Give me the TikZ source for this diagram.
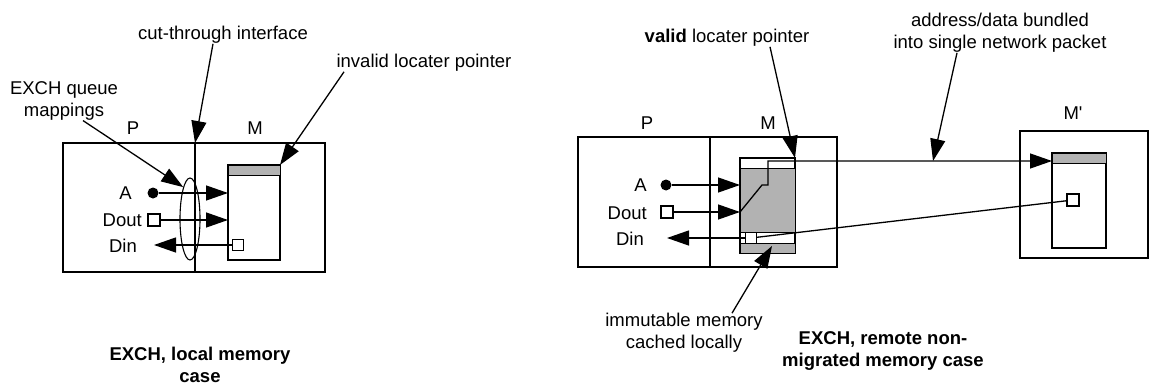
\documentclass[tikz,border=0pt]{standalone}
\usepackage{fontspec}
\setmainfont{Liberation Sans}
\usetikzlibrary{arrows.meta,shapes.geometric}
\begin{document}
\begin{tikzpicture}[x=1pt,y=-1pt,
  font=\fontsize{18.5}{22}\selectfont,
  frame/.style={draw, line width=1.4pt, inner sep=0pt, outer sep=0pt, anchor=north west},
  lbl/.style={inner sep=0pt, align=center},
  caption/.style={inner sep=0pt, align=center, font=\fontsize{18.5}{22}\selectfont\bfseries},
  wire/.style={line width=1.3pt},
  arrw/.style={wire, -{Triangle[length=22pt,width=15pt]}},
  cache/.style={fill=gray!60, draw, line width=1pt},
  sqbox/.style={draw, fill=white, line width=1.1pt, minimum size=12pt, inner sep=0pt},
  dotnode/.style={circle, fill=black, minimum size=11pt, inner sep=0pt}]
\useasboundingbox (0,0) rectangle (1153,385);

% ---------------- left: local memory case ----------------
\node[frame, minimum width=262pt, minimum height=129pt] (boxL) at (63,143) {};
\coordinate (divLt) at (195,143);
\coordinate (divLb) at (195,272);
\draw[wire] (divLt) -- (divLb);
\node[frame, minimum width=52pt, minimum height=95pt] (memL) at (228,165) {};
\draw[cache] (228,165) rectangle (280,175);
\node[draw, ellipse, line width=1.1pt, minimum width=20pt, minimum height=82pt, inner sep=0pt] (ell) at (190,219) {};

\node (P1) at (133,128) {P};
\node (M1) at (255,128) {M};

\node[dotnode] (dotA1) at (153,193) {};
\node[sqbox] (sqD1) at (154,220) {};
\node[sqbox, minimum size=11pt] (sqI1) at (238,245) {};
\node[lbl, anchor=east] (A1) at (132,193) {A};
\node[lbl, anchor=east] (Dout1) at (142,220) {Dout};
\node[lbl, anchor=east] (Din1) at (137,246) {Din};
\coordinate (DinTip1) at (154,245);

\draw[arrw] (dotA1) -- (memL.west |- dotA1);
\draw[arrw] (sqD1) -- (memL.west |- sqD1);
\draw[arrw] (sqI1) -- (DinTip1);

\node[lbl] (cut) at (223,35) {cut-through interface};
\draw[arrw] ([xshift=-10pt]cut.south) -- (divLt);
\node[lbl] (exq) at (64,101) {EXCH queue\\mappings};
\draw[arrw] ([xshift=19pt]exq.south) -- (ell.102);
\node[lbl] (inv) at (424,63) {invalid locater pointer};
\draw[arrw] ([xshift=-80pt]inv.south) -- (memL.north east);

\node[caption] (capL) at (200,365) {EXCH, local memory\\case};

% ---------------- right: remote non-migrated memory case ----------------
\node[frame, minimum width=259pt, minimum height=130pt] (boxR) at (578,137) {};
\coordinate (divRt) at (710,137);
\coordinate (divRb) at (710,267);
\draw[wire] (divRt) -- (divRb);
\node[frame, minimum width=55pt, minimum height=95pt] (memR) at (740,158) {};
\draw[cache] (740,168) rectangle (795,232);
\draw[line width=1pt] (740,243) -- (795,243);
\draw[cache] (740,243) rectangle (795,253);

\node (P2) at (647,123) {P};
\node (M2) at (768,123) {M};

\node[dotnode] (dotA2) at (666,185) {};
\node[sqbox] (sqD2) at (667,212) {};
\node[sqbox, minimum size=11pt] (sqI2) at (751,238) {};
\node[lbl, anchor=east] (A2) at (647,185) {A};
\node[lbl, anchor=east] (Dout2) at (647,213) {Dout};
\node[lbl, anchor=east] (Din2) at (644,239) {Din};
\coordinate (DinTip2) at (667,238);

\draw[arrw] (dotA2) -- (memR.west |- dotA2);
\draw[arrw] (sqD2) -- (memR.west |- sqD2);
\draw[arrw] (sqI2) -- (DinTip2);

% remote memory M'
\node[frame, minimum width=128pt, minimum height=127pt] (boxMp) at (1020,131) {};
\node[frame, minimum width=54pt, minimum height=95pt] (memP) at (1052,153) {};
\draw[cache] (1052,153) rectangle (1106,163);
\node[sqbox] (sqP) at (1073,200) {};
\node (Mp) at (1073,113) {M\textquotesingle};

% bundled address/data path
\coordinate (mergeA) at (762,185);
\coordinate (bendT) at (768,161);
\coordinate (pkt) at (933,161);
\draw[arrw] (memR.west |- sqD2) -- (mergeA) -- (mergeA -| bendT) -- (bendT) -- (memP.west |- bendT);
\draw[wire] (sqP) -- (sqI2);

\node[lbl] (valid) at (727,38) {\textbf{valid} locater pointer};
\draw[arrw] ([xshift=43pt]valid.south) -- (memR.north east);
\node[lbl] (addr) at (1000,33) {address/data bundled\\into single network packet};
\draw[arrw] ([xshift=-43pt]addr.south) -- (pkt);
\node[lbl] (imm) at (684,333) {immutable memory\\cached locally};
\coordinate (immTip) at (772,246);
\draw[arrw] ([xshift=48pt]imm.north) -- (immTip);

\node[caption] (capR) at (883,351) {EXCH, remote non-\\migrated memory case};
\end{tikzpicture}
\end{document}
